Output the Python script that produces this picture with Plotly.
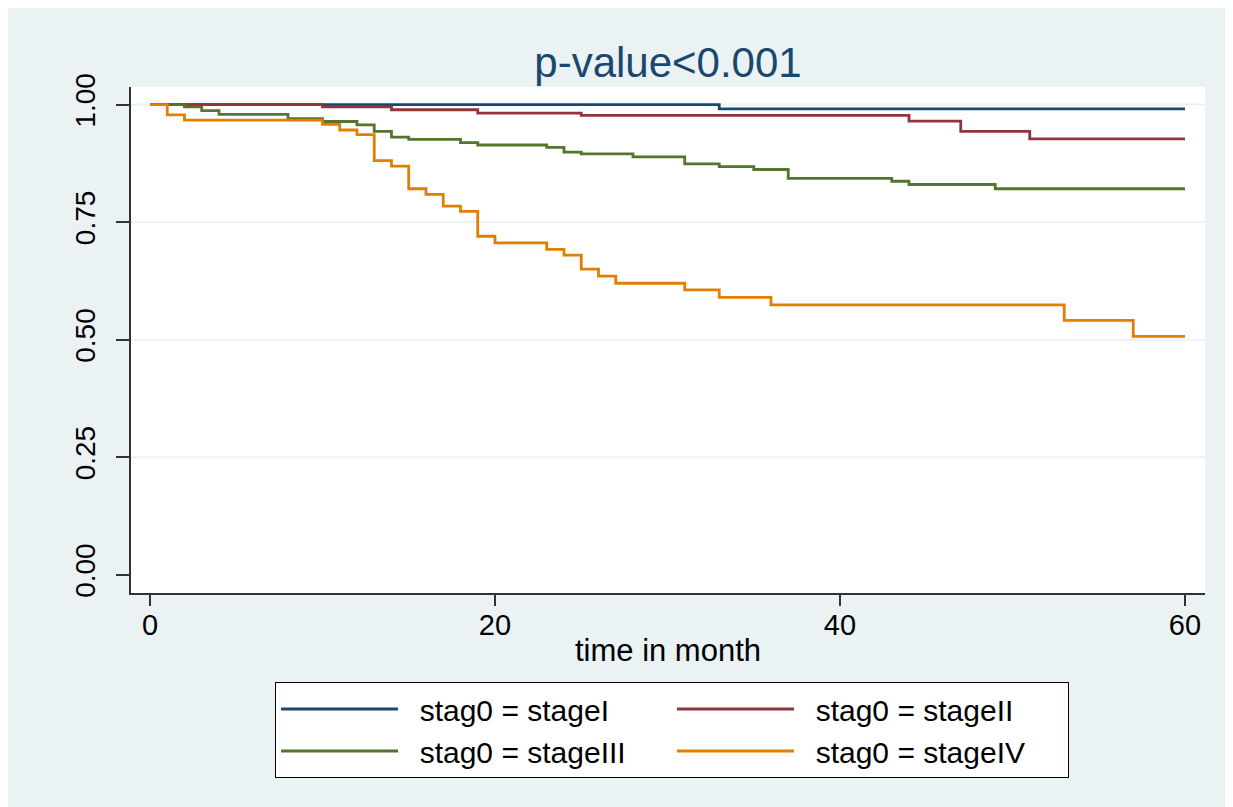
import plotly.graph_objects as go

# Kaplan-Meier step data (time in month, survival probability)
t_stage1 = [0, 33, 60]
s_stage1 = [1.0, 0.991, 0.991]

t_stage2 = [0, 10, 14, 19, 25, 44, 47, 51, 60]
s_stage2 = [1.0, 0.995, 0.989, 0.982, 0.977, 0.965, 0.943, 0.927, 0.927]

t_stage3 = [0, 2, 3, 4, 8, 10, 12, 13, 14, 15, 18, 19, 23, 24, 25, 28, 31, 33, 35, 37, 43, 44, 49, 60]
s_stage3 = [1.0, 0.995, 0.987, 0.979, 0.970, 0.964, 0.957, 0.943, 0.931, 0.926, 0.919, 0.914,
            0.909, 0.899, 0.895, 0.889, 0.874, 0.868, 0.862, 0.843, 0.837, 0.830, 0.821, 0.821]

t_stage4 = [0, 1, 2, 10, 11, 12, 13, 14, 15, 16, 17, 18, 19, 20, 23, 24, 25, 26, 27, 31, 33, 36, 53, 57, 60]
s_stage4 = [1.0, 0.978, 0.967, 0.958, 0.946, 0.936, 0.881, 0.869, 0.821, 0.809, 0.784, 0.773, 0.720,
            0.706, 0.692, 0.680, 0.650, 0.635, 0.620, 0.606, 0.590, 0.574, 0.541, 0.507, 0.507]

series = [
    ("stag0 = stageI", t_stage1, s_stage1, "#1A476F"),
    ("stag0 = stageII", t_stage2, s_stage2, "#90353B"),
    ("stag0 = stageIII", t_stage3, s_stage3, "#55752F"),
    ("stag0 = stageIV", t_stage4, s_stage4, "#E37E00"),
]

x_ticks = [0, 20, 40, 60]
y_ticks = [0, 0.25, 0.5, 0.75, 1.0]
y_ticklabels = ["0.00", "0.25", "0.50", "0.75", "1.00"]
y_gridlines = [0.25, 0.5, 0.75, 1.0]

FONT = "Liberation Sans, Arial, sans-serif"
BG = "#EAF2F3"
GAP = "\u00a0\u00a0"

fig = go.Figure()
for name, t, s, c in series:
    fig.add_trace(go.Scatter(x=t, y=s, mode="lines", name=GAP + name,
                             line=dict(color=c, width=2.8, shape="hv")))

# horizontal gridlines (none at 0.00, as in the original)
for g in y_gridlines:
    fig.add_hline(y=g, line=dict(color=BG, width=2), layer="below")

# page has an 8px body margin, so figure pixel = page pixel - 8
OFF = 8
W, H = 1233, 807
L, T = 131 - OFF, 87 - OFF
R = W - (1205 - OFF)
B = H - (593 - OFF)
pw, ph = W - L - R, H - T - B

def px_x(p):
    return (p - OFF - L) / pw

def px_y(p):
    return (H - B - (p - OFF)) / ph

fig.update_layout(
    width=W, height=H,
    margin=dict(l=L, r=R, t=T, b=B, pad=0),
    paper_bgcolor=BG,
    plot_bgcolor="white",
    font=dict(family=FONT, color="black", size=29),
    title=dict(text="p-value<0.001", x=0.5, xref="paper", xanchor="center",
               y=1 - (62 - OFF) / H, yref="container", yanchor="middle",
               font=dict(size=42, color="#1A476F", family=FONT)),
    xaxis=dict(range=[-1.10, 61.16], tickvals=x_ticks, ticks="outside", ticklen=11,
               tickwidth=1.5, tickcolor="#333333", showline=True, linecolor="#333333",
               linewidth=2, showgrid=False, zeroline=False,
               tickfont=dict(size=29), ticklabelstandoff=-6,
               title=dict(text="time in month", font=dict(size=31), standoff=0)),
    yaxis=dict(range=[-0.0387, 1.0374], tickvals=y_ticks, ticktext=y_ticklabels,
               ticks="outside", ticklen=13, tickwidth=1.5, tickcolor="#333333",
               showline=True, linecolor="#333333", linewidth=2,
               showgrid=False, zeroline=False,
               tickangle=-90, tickfont=dict(size=28), ticklabelstandoff=10),
    legend=dict(orientation="h", x=px_x(275), xanchor="left", y=px_y(682), yanchor="top",
                bgcolor="white", bordercolor="black", borderwidth=1,
                font=dict(size=30), entrywidth=264, itemwidth=117,
                traceorder="normal"),
    showlegend=True,
)

fig.write_html("out.html")
